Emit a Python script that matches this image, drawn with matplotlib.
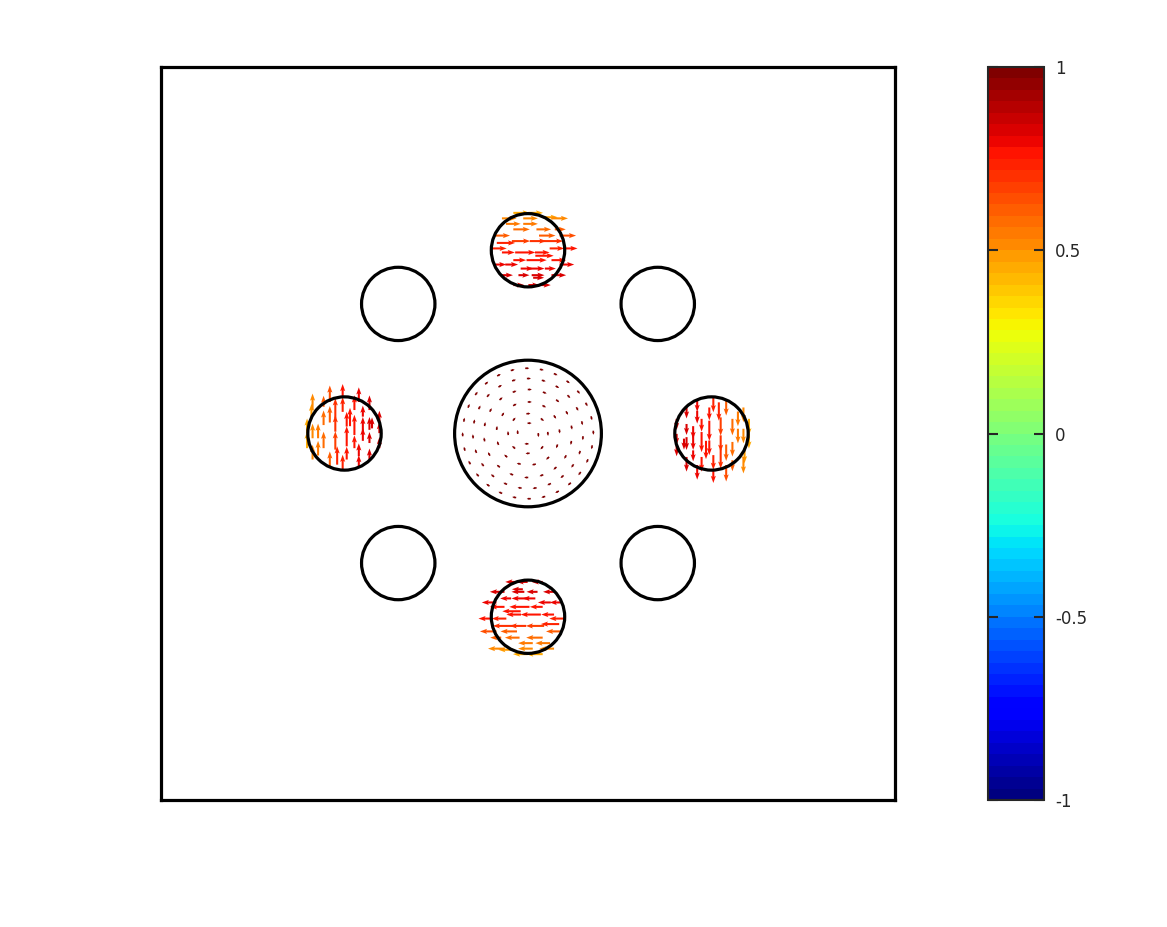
import numpy as np
import matplotlib
matplotlib.use("Agg")
import matplotlib.pyplot as plt
from matplotlib.colors import ListedColormap, BoundaryNorm
from matplotlib.patches import Circle

# geometry of the holes (box is [-1, 1] x [-1, 1])
ring_radius = 0.5
hole_angles_deg = [0, 45, 90, 135, 180, 225, 270, 315]
hole_r = 0.1
core_r = 0.2

# flow nodes inside one active hole, local frame (u: along flow, v: radial outward), units of hole radius
node_u = [-0.40, 0.01, 0.41, -0.71, -0.13, 0.64, -0.13, -0.40, 0.23, 0.73, -0.89, 0.86,
          -0.44, 0.05, 0.41, -0.98, 0.59, 1.00, -0.71, -0.35, 0.19, -0.40, -0.04, 0.64,
          -0.89, -0.62, 0.86, 0.05, 0.46, -0.71, -0.26, 0.10, 0.64, 0.14, -0.40, 0.01, 0.32,
          -0.60, 0.30, -0.85, 0.20, -0.20]
node_v = [1.02, 1.02, 0.90, 0.87, 0.87, 0.87, 0.72, 0.57, 0.57, 0.57, 0.40, 0.40,
          0.25, 0.25, 0.25, 0.05, 0.05, 0.05, -0.06, -0.06, -0.06, -0.27, -0.27, -0.27,
          -0.39, -0.39, -0.39, -0.50, -0.50, -0.68, -0.68, -0.68, -0.68, -0.75, -0.95, -0.95, -0.95,
          0.72, 0.40, 0.20, -0.15, -0.50]
node_len = [0.45, 0.40, 0.40, 0.40, 0.40, 0.45, 0.40, 0.45, 0.40, 0.30, 0.40, 0.45,
            0.50, 0.45, 0.55, 0.40, 0.40, 0.35, 0.35, 0.55, 0.40, 0.35, 0.55, 0.40,
            0.30, 0.35, 0.40, 0.40, 0.30, 0.30, 0.30, 0.35, 0.40, 0.30, 0.30, 0.30, 0.30,
            0.40, 0.45, 0.50, 0.50, 0.35]
node_val = [0.45, 0.45, 0.48, 0.50, 0.50, 0.52, 0.55, 0.58, 0.58, 0.60, 0.62, 0.64,
            0.68, 0.70, 0.70, 0.74, 0.74, 0.75, 0.76, 0.76, 0.77, 0.78, 0.78, 0.78,
            0.79, 0.79, 0.80, 0.80, 0.80, 0.82, 0.82, 0.82, 0.82, 0.83, 0.84, 0.84, 0.84,
            0.55, 0.62, 0.72, 0.77, 0.80]
active_angles_deg = [90, 0, 270, 180]

# slow swirl in the central core: ring radii (units of core radius) and node counts
core_ring_r = [0.14, 0.27, 0.43, 0.60, 0.75, 0.89]
core_ring_n = [4, 8, 13, 18, 23, 28]
core_len = 0.011
core_val = 0.97

fig = plt.figure(figsize=(11.67, 9.27), dpi=100)
ax = fig.add_axes([161 / 1167, 127 / 927, 734 / 1167, 733 / 927])
cax = fig.add_axes([988 / 1167, 127 / 927, 56 / 1167, 733 / 927])

cmap = ListedColormap(plt.get_cmap("jet")(np.linspace(0, 1, 64)))
norm = BoundaryNorm(np.linspace(-1, 1, 65), 64)

X, Y, U, V, C = [], [], [], [], []
nu, nv = np.array(node_u), np.array(node_v)
for a in active_angles_deg:
    t = np.deg2rad(a)
    cx, cy = ring_radius * np.cos(t), ring_radius * np.sin(t)
    er = np.array([np.cos(t), np.sin(t)])          # outward radial
    et = np.array([np.sin(t), -np.cos(t)])         # clockwise tangent
    px = cx + hole_r * (nu * et[0] + nv * er[0])
    py = cy + hole_r * (nu * et[1] + nv * er[1])
    L = hole_r * np.array(node_len)
    X += list(px); Y += list(py)
    U += list(L * et[0]); V += list(L * et[1])
    C += node_val

ax.quiver(X, Y, U, V, C, cmap=cmap, norm=norm, angles="xy", scale_units="xy", scale=1,
          width=0.0028, headwidth=2.5, headlength=3.5, headaxislength=3, zorder=2)

CX, CY, CU, CV = [], [], [], []
for r, n in zip(core_ring_r, core_ring_n):
    th = np.linspace(0, 2 * np.pi, n, endpoint=False) + 0.3 * r
    CX += list(core_r * r * np.cos(th)); CY += list(core_r * r * np.sin(th))
    CU += list(core_len * np.sin(th)); CV += list(-core_len * np.cos(th))
ax.quiver(CX, CY, CU, CV, [core_val] * len(CX), cmap=cmap, norm=norm, angles="xy",
          scale_units="xy", scale=1, width=0.0022, headwidth=1.5, headlength=1.5,
          headaxislength=1.5, zorder=2)

for a in hole_angles_deg:
    t = np.deg2rad(a)
    ax.add_patch(Circle((ring_radius * np.cos(t), ring_radius * np.sin(t)), hole_r,
                        fill=False, ec="black", lw=2.3, zorder=3))
ax.add_patch(Circle((0, 0), core_r, fill=False, ec="black", lw=2.3, zorder=3))

ax.set_xlim(-1, 1); ax.set_ylim(-1, 1)
ax.set_xticks([]); ax.set_yticks([])
for s in ax.spines.values():
    s.set_linewidth(2.3); s.set_color("black")

sm = matplotlib.cm.ScalarMappable(norm=norm, cmap=cmap)
cb = fig.colorbar(sm, cax=cax, ticks=[-1, -0.5, 0, 0.5, 1])
cb.ax.set_yticklabels(["-1", "-0.5", "0", "0.5", "1"])
cax.minorticks_off()
cb.outline.set_linewidth(1.5); cb.outline.set_edgecolor("#262626")
cax.tick_params(axis="y", which="both", direction="in", length=7, width=1.5, color="#262626",
                left=True, right=True, labelsize=12, pad=8, labelcolor="#262626")
cax.tick_params(axis="y", which="minor", length=0)

fig.savefig("out.png", dpi=100)
